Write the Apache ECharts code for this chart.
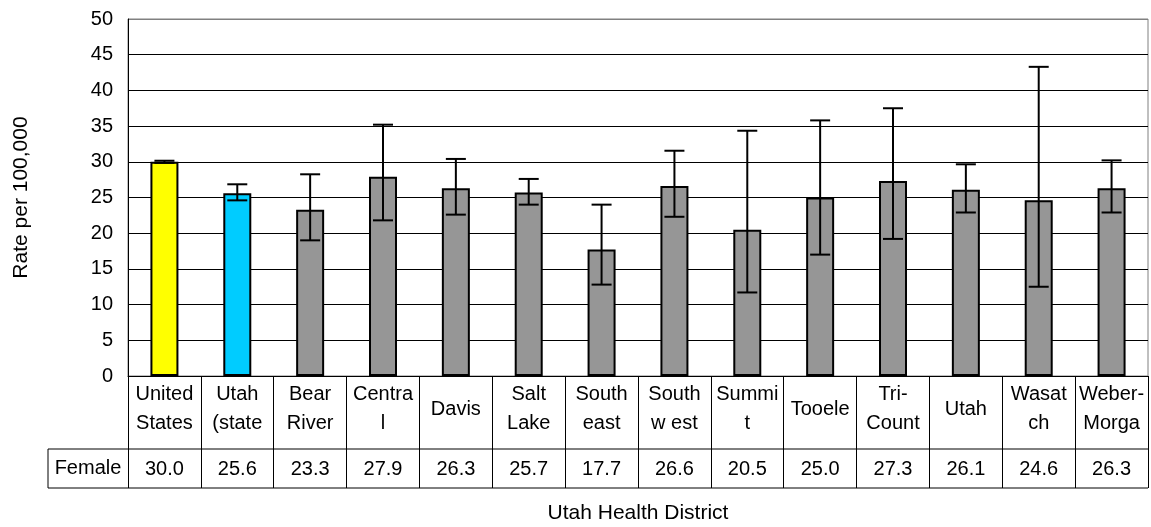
<!DOCTYPE html>
<html>
<head>
<meta charset="utf-8">
<script src="https://cdn.jsdelivr.net/npm/echarts@6/dist/echarts.min.js"></script>
<style>
  html, body { margin: 0; padding: 0; background: #fff; }
  #chart { width: 1151px; height: 527px; }
</style>
</head>
<body>
<div id="chart"></div>
<script>
// districts as they show in the table (wrapped like the original)
const categories = ['United\nStates', 'Utah\n(state', 'Bear\nRiver', 'Centra\nl', 'Davis', 'Salt\nLake',
  'South\neast', 'South\nw est', 'Summi\nt', 'Tooele', 'Tri-\nCount', 'Utah', 'Wasat\nch', 'Weber-\nMorga'];
const female = [30.0, 25.6, 23.3, 27.9, 26.3, 25.7, 17.7, 26.6, 20.5, 25.0, 27.3, 26.1, 24.6, 26.3];
// confidence interval ends
const lower = [29.85, 24.6, 19.0, 21.8, 22.6, 24.0, 12.8, 22.3, 11.7, 17.0, 19.2, 22.9, 12.5, 22.9];
const upper = [30.15, 26.85, 28.25, 35.2, 30.4, 27.6, 24.0, 31.55, 34.35, 35.8, 37.5, 29.65, 43.3, 30.2];
const yTicks = [0, 5, 10, 15, 20, 25, 30, 35, 40, 45, 50];

const barColors = ['#FFFF00', '#00CCFF'].concat(Array(12).fill('#969696'));

// layout
const W = 1151, H = 527;
const G = { left: 128, right: 3, top: 19, bottom: 151 };
const axisY = H - G.bottom;      // 376
const rowSplitY = 449;
const tableBottom = 488;
const tableLeft = 48;
const font = 'Liberation Sans, Arial, sans-serif';

const chart = echarts.init(document.getElementById('chart'));

const gridLineColors = yTicks.map((t, i) => i === yTicks.length - 1 ? '#808080' : '#000');

const option = {
  animation: false,
  textStyle: { fontFamily: font, color: '#000' },
  grid: { left: G.left, right: G.right, top: G.top, bottom: G.bottom, show: true,
          borderColor: '#808080', borderWidth: 1, outerBoundsMode: 'none' },
  xAxis: [
    {
      type: 'category',
      data: categories,
      position: 'bottom',
      name: 'Utah Health District',
      nameLocation: 'middle',
      nameGap: 127,
      nameTextStyle: { fontSize: 21, fontFamily: font, color: '#000' },
      axisLine: { lineStyle: { color: '#000', width: 1 } },
      axisTick: { show: true, inside: false, length: tableBottom - axisY, interval: 0,
                  lineStyle: { color: '#000', width: 1 } },
      axisLabel: { interval: 0, fontSize: 20, lineHeight: 29, margin: 33,
                   verticalAlign: 'middle', color: '#000', fontFamily: font }
    },
    {
      type: 'category',
      data: female.map(v => v.toFixed(1)),
      position: 'bottom',
      axisLine: { show: false },
      axisTick: { show: false },
      axisLabel: { interval: 0, fontSize: 20, margin: 93, verticalAlign: 'middle',
                   color: '#000', fontFamily: font }
    }
  ],
  yAxis: {
    type: 'value',
    min: 0, max: 50, interval: 5,
    name: 'Rate per 100,000',
    nameLocation: 'middle',
    nameRotate: 90,
    nameGap: 96,
    nameTextStyle: { fontSize: 21, fontFamily: font, color: '#000' },
    axisLine: { show: true, lineStyle: { color: '#000', width: 1 } },
    axisTick: { show: false },
    axisLabel: { fontSize: 20, margin: 15, color: '#000', fontFamily: font },
    splitLine: { lineStyle: { color: gridLineColors, width: 1 } }
  },
  series: [
    {
      type: 'bar',
      xAxisIndex: 0,
      barWidth: 28,
      data: female.map((v, i) => ({ value: v, itemStyle: { color: barColors[i] } })),
      itemStyle: { borderColor: '#000', borderWidth: 2 }
    },
    {
      type: 'custom',
      xAxisIndex: 0,
      z: 5,
      data: female.map((v, i) => [i, lower[i], upper[i]]),
      renderItem: (params, api) => {
        const i = api.value(0);
        const lo = api.coord([i, api.value(1)]);
        const hi = api.coord([i, api.value(2)]);
        const half = 10;
        const st = { stroke: '#000', lineWidth: 2 };
        return {
          type: 'group',
          children: [
            { type: 'line', shape: { x1: lo[0], y1: lo[1], x2: hi[0], y2: hi[1] }, style: st },
            { type: 'line', shape: { x1: lo[0] - half, y1: lo[1], x2: lo[0] + half, y2: lo[1] }, style: st },
            { type: 'line', shape: { x1: hi[0] - half, y1: hi[1], x2: hi[0] + half, y2: hi[1] }, style: st }
          ]
        };
      }
    }
  ],
  graphic: [
    { type: 'line', shape: { x1: tableLeft, y1: rowSplitY, x2: W - G.right, y2: rowSplitY },
      style: { stroke: '#000', lineWidth: 1 } },
    { type: 'line', shape: { x1: tableLeft, y1: tableBottom, x2: W - G.right, y2: tableBottom },
      style: { stroke: '#000', lineWidth: 1 } },
    { type: 'line', shape: { x1: tableLeft, y1: rowSplitY, x2: tableLeft, y2: tableBottom },
      style: { stroke: '#000', lineWidth: 1 } },
    { type: 'text', x: (tableLeft + G.left) / 2, y: (rowSplitY + tableBottom) / 2,
      style: { text: 'Female', fontSize: 20, fontFamily: font, fill: '#000',
               align: 'center', verticalAlign: 'middle' } }
  ]
};

chart.setOption(option);
</script>
</body>
</html>
